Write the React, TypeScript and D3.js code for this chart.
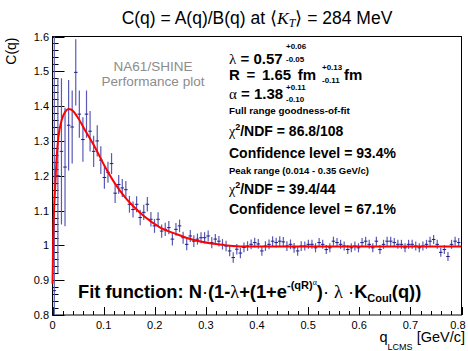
import React from 'react';
import * as d3 from 'd3';

// ---- data ----
const binWidth = 0.007;
const firstCenter = 0.0035;
const cValues = [
  0.87, 1.2, 1.27, 1.225, 1.345, 1.34, 1.497, 1.377, 1.304, 1.377,
  1.328, 1.27, 1.3, 1.245, 1.195, 1.21, 1.235, 1.15, 1.175, 1.165,
  1.16, 1.118, 1.103, 1.118, 1.08, 1.095, 1.118, 1.075, 1.056, 1.075,
  1.041, 1.046, 1.051, 1.018, 1.046, 1.056, 1.022, 1.003, 1.027, 1.012,
  1.018, 1.022, 1.022, 1.027, 1.008, 1.018, 1.012, 1.003, 0.998, 0.984,
  0.965, 0.989, 0.978, 0.994, 0.998, 1.003, 1.008, 1.004, 0.984, 0.998,
  1.003, 1.012, 1.008, 1.012, 1.01, 0.998, 1.003, 0.993, 0.984, 0.998,
  0.998, 1.003, 1.003, 0.993, 1.008, 1.003, 0.988, 0.993, 1.012, 1.008,
  1.003, 0.998, 0.988, 0.993, 0.998, 0.993, 1.008, 1.012, 1.003, 0.993,
  1.012, 0.988, 1.003, 1.012, 1.012, 1.008, 1.003, 1.003, 0.993, 1.003,
  1.003, 0.998, 0.993, 0.998, 1.003, 1.012, 1.017, 1.003, 0.98, 0.988,
  0.968, 1.003, 1.012, 1.008,
];
const cErrors = [
  0.75, 0.28, 0.21, 0.17, 0.13, 0.105, 0.095, 0.068, 0.064, 0.068,
  0.058, 0.045, 0.045, 0.04, 0.032, 0.03, 0.03, 0.028, 0.027, 0.026,
  0.025, 0.024, 0.023, 0.023, 0.022, 0.022, 0.021, 0.021, 0.02, 0.02,
  0.019, 0.019, 0.019, 0.018, 0.018, 0.018, 0.017, 0.017, 0.017, 0.017,
  0.016, 0.016, 0.016, 0.016, 0.016, 0.015, 0.015, 0.015, 0.015, 0.015,
  0.015, 0.015, 0.015, 0.014, 0.014, 0.014, 0.014, 0.014, 0.014, 0.014,
  0.014, 0.014, 0.014, 0.014, 0.014, 0.014, 0.014, 0.014, 0.014, 0.014,
  0.013, 0.013, 0.013, 0.013, 0.013, 0.013, 0.013, 0.013, 0.013, 0.013,
  0.013, 0.013, 0.013, 0.013, 0.013, 0.013, 0.013, 0.013, 0.013, 0.013,
  0.013, 0.013, 0.013, 0.013, 0.013, 0.013, 0.013, 0.013, 0.013, 0.013,
  0.013, 0.013, 0.013, 0.013, 0.013, 0.013, 0.013, 0.013, 0.013, 0.013,
  0.013, 0.013, 0.013, 0.013,
];
const fitQ = [0, 0.0008, 0.0016, 0.003, 0.005, 0.008, 0.0115, 0.018, 0.0245, 0.031, 0.0376, 0.05, 0.064, 0.083, 0.103, 0.122, 0.142, 0.161, 0.178, 0.21, 0.243, 0.275, 0.308, 0.341, 0.373, 0.45, 0.6, 0.8];
const fitC = [0.89, 0.96, 1.04, 1.1, 1.16, 1.25, 1.31, 1.36, 1.383, 1.392, 1.389, 1.366, 1.33, 1.282, 1.225, 1.178, 1.138, 1.108, 1.085, 1.052, 1.032, 1.016, 1.006, 1.0, 0.997, 0.997, 0.997, 0.997];
const xTickValues = [0, 0.1, 0.2, 0.3, 0.4, 0.5, 0.6, 0.7, 0.8];
const xTickLabels = ['0', '0.1', '0.2', '0.3', '0.4', '0.5', '0.6', '0.7', '0.8'];
const yTickValues = [0.8, 0.9, 1.0, 1.1, 1.2, 1.3, 1.4, 1.5, 1.6];
const yTickLabels = ['0.8', '0.9', '1', '1.1', '1.2', '1.3', '1.4', '1.5', '1.6'];

// ---- layout ----
const W = 468;
const H = 351;
const FL = 52.5;
const FR = 461.5;
const FT = 36.5;
const FB = 315;
const SANS = '"Liberation Sans", Arial, Helvetica, sans-serif';
const SERIF = '"Liberation Serif", "DejaVu Serif", serif';
const PX = 229;
const BIG = 15;

export default function App() {
  const x = d3.scaleLinear().domain([0, 0.8]).range([FL, FR]);
  const y = d3.scaleLinear().domain([0.8, 1.6]).range([FB, FT]);

  const points = cValues.map((c, i) => ({
    q: firstCenter + binWidth * i,
    c,
    e: cErrors[i],
  }));

  const fitLine = d3
    .line<number>()
    .x((_, i) => x(fitQ[i]))
    .y((d) => y(d))
    .curve(d3.curveMonotoneX)(fitC) as string;

  const xMinor = d3.range(0, 0.8001, 0.02);
  const yMinor = d3.range(0.8, 1.6001, 0.02);

  const clip = (v: number) => Math.max(0.8, Math.min(1.6, v));

  return (
    <svg
      width={W}
      height={H}
      style={{ position: 'absolute', left: 0, top: 0, background: '#fff' }}
      fontFamily={SANS}
    >
      <rect x={0} y={0} width={W} height={H} fill="#fff" />
      {/* title */}
      <text x={257} y={24} textAnchor="middle" fontSize={17.5} fill="#000">
        C(q) = A(q)/B(q) at ⟨<tspan fontFamily={SERIF} fontStyle="italic">K</tspan>
        <tspan fontFamily={SERIF} fontStyle="italic" fontSize={12} dy={3}>T</tspan>
        <tspan dy={-3}>⟩ = 284 MeV</tspan>
      </text>

      {/* frame */}
      <rect x={FL} y={FT} width={FR - FL} height={FB - FT} fill="none" stroke="#000" strokeWidth={1} />

      {/* y axis ticks */}
      {yMinor.map((v, i) => (
        <line key={'ym' + i} x1={FL} x2={FL + 6} y1={Math.round(y(v)) + 0.5} y2={Math.round(y(v)) + 0.5} stroke="#000" strokeWidth={1} />
      ))}
      {yTickValues.map((v, i) => (
        <g key={'yt' + i}>
          <line x1={FL} x2={FL + 12} y1={Math.round(y(v)) + 0.5} y2={Math.round(y(v)) + 0.5} stroke="#000" strokeWidth={1} />
          <text x={49} y={y(v) + 4} textAnchor="end" fontSize={11}>{yTickLabels[i]}</text>
        </g>
      ))}

      {/* x axis ticks */}
      {xMinor.map((v, i) => (
        <line key={'xm' + i} x1={Math.round(x(v)) + 0.5} x2={Math.round(x(v)) + 0.5} y1={FB} y2={FB - 4} stroke="#000" strokeWidth={1} />
      ))}
      {xTickValues.map((v, i) => (
        <g key={'xt' + i}>
          <line x1={Math.round(x(v)) + 0.5} x2={Math.round(x(v)) + 0.5} y1={FB} y2={FB - 8} stroke="#000" strokeWidth={1} />
          <text x={Math.min(x(v), 458)} y={328.5} textAnchor="middle" fontSize={11}>{xTickLabels[i]}</text>
        </g>
      ))}

      {/* axis titles */}
      <text transform={`translate(16,${FT + 1}) rotate(-90)`} textAnchor="end" fontSize={14}>C(q)</text>
      <text x={465} y={342} textAnchor="end" fontSize={14.5}>
        q<tspan fontSize={9} dy={8}>LCMS</tspan>
        <tspan dy={-8}> [GeV/c]</tspan>
      </text>

      {/* data */}
      <g>
        {points.map((p, i) => (
          <g key={'p' + i}>
            <line x1={x(p.q)} x2={x(p.q)} y1={y(clip(p.c - p.e))} y2={y(clip(p.c + p.e))} stroke="#5a5ab4" strokeWidth={1.2} />
            <line x1={x(p.q - binWidth / 2)} x2={x(p.q + binWidth / 2)} y1={y(p.c)} y2={y(p.c)} stroke="#1e1e8c" strokeWidth={1} />
          </g>
        ))}
      </g>

      {/* fit */}
      <path d={fitLine} fill="none" stroke="#ff0000" strokeWidth={2} />

      {/* performance label */}
      <text x={153} y={70.5} textAnchor="middle" fontSize={13.5} fill="#8c8c8c">NA61/SHINE</text>
      <text x={153} y={85.5} textAnchor="middle" fontSize={13.5} fill="#8c8c8c">Performance plot</text>

      {/* fit results */}
      <g fontWeight="bold" fill="#000">
        <text x={PX} y={63.5} fontSize={BIG}>
          <tspan fontFamily={SERIF} fontWeight="normal">λ</tspan> = 0.57
        </text>
        <text x={286} y={49} fontSize={8}>+0.06</text>
        <text x={286} y={62} fontSize={8}>-0.05</text>

        <text x={PX} y={80} fontSize={BIG} wordSpacing={2.5}>R = 1.65 fm</text>
        <text x={322} y={70} fontSize={8}>+0.13</text>
        <text x={322} y={83} fontSize={8}>-0.11</text>
        <text x={344} y={80} fontSize={BIG}>fm</text>

        <text x={PX} y={99} fontSize={BIG}>
          <tspan fontFamily={SERIF} fontWeight="normal">α</tspan> = 1.38
        </text>
        <text x={286} y={90} fontSize={8}>+0.11</text>
        <text x={286} y={101.5} fontSize={8}>-0.10</text>

        <text x={PX} y={113.5} fontSize={9.8}>Full range goodness-of-fit</text>
        <text x={PX} y={136} fontSize={14}>
          <tspan fontFamily={SERIF} fontWeight="normal">χ</tspan>
          <tspan fontSize={9} dy={-6}>2</tspan>
          <tspan dy={6}>/NDF = 86.8/108</tspan>
        </text>
        <text x={PX} y={158} fontSize={14}>Confidence level = 93.4%</text>
        <text x={PX} y={174} fontSize={9.5}>Peak range (0.014 - 0.35 GeV/c)</text>
        <text x={PX} y={194} fontSize={14}>
          <tspan fontFamily={SERIF} fontWeight="normal">χ</tspan>
          <tspan fontSize={9} dy={-6}>2</tspan>
          <tspan dy={6}>/NDF = 39.4/44</tspan>
        </text>
        <text x={PX} y={214} fontSize={14}>Confidence level = 67.1%</text>

        <text x={78} y={298} fontSize={18.3}>
          Fit function: N<tspan fontWeight="normal">·</tspan>(1-<tspan fontFamily={SERIF} fontWeight="normal">λ</tspan>+(1+e
          <tspan fontSize={11} dy={-9}>-(qR)</tspan>
          <tspan fontSize={8} dy={-4} fontFamily={SERIF} fontWeight="normal">α</tspan>
          <tspan dy={13}>)</tspan>
          <tspan fontWeight="normal">·  </tspan>
          <tspan fontFamily={SERIF} fontWeight="normal">λ</tspan>
          <tspan fontWeight="normal">  ·</tspan>K<tspan fontSize={11} dy={4}>Coul</tspan>
          <tspan dy={-4}>(q))</tspan>
        </text>
      </g>
    </svg>
  );
}
